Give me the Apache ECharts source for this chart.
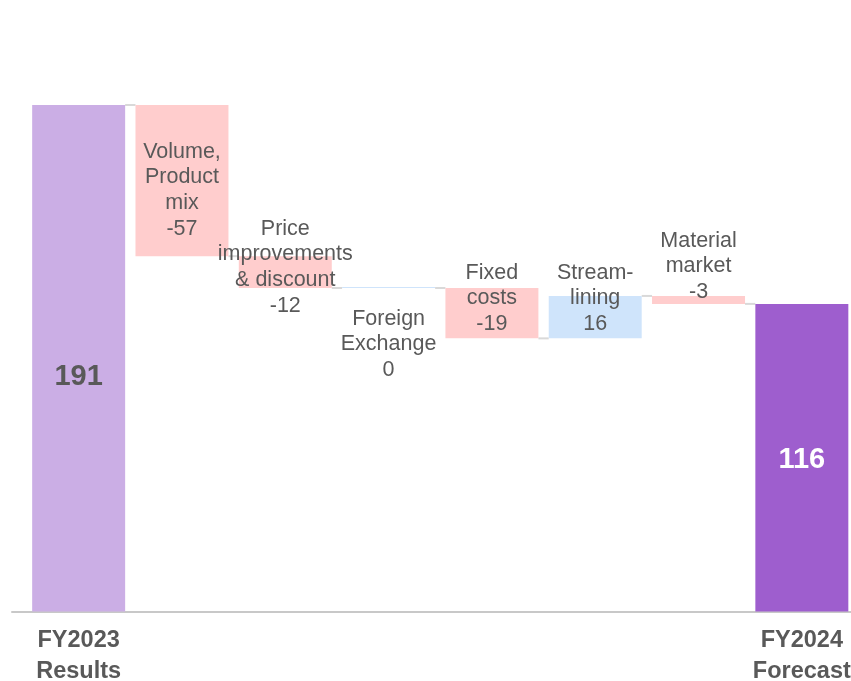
<!DOCTYPE html>
<html><head><meta charset="utf-8">
<script src="https://cdn.jsdelivr.net/npm/echarts@6/dist/echarts.min.js"></script>
<style>html,body{margin:0;padding:0;background:#fff;overflow:hidden}#c{width:851px;height:681px}</style>
</head><body><div id="c"></div>
<script>
const categories = ['FY2023\nResults','Volume,\nProduct\nmix','Price\nimprovements\n& discount','Foreign\nExchange','Fixed\ncosts','Stream-\nlining','Material\nmarket','FY2024\nForecast'];
const startValue = 191;
const changes = [-57, -12, 0, -19, 16, -3];
const endValue = 116;

// layout (label vertical offsets, px)
const labelDy = [19, 34, -40, 19, -28, -36, -68, 2];

const n = categories.length;
const base = [], delta = [], totals = [];
let run = startValue;
base.push(0); delta.push(startValue); totals.push(run);
changes.forEach(c => {
  const nxt = run + c;
  base.push(Math.min(run, nxt));
  delta.push(Math.abs(c));
  run = nxt; totals.push(run);
});
base.push(0); delta.push(endValue);

const C_START = '#CBAEE5', C_END = '#9E5ECE', C_NEG = '#FFCDCD', C_POS = '#CFE4FB';
const TXT = '#595959';

const deltaData = delta.map((v, i) => {
  let color, label;
  if (i === 0) {
    color = C_START;
    label = {show:true, position:'inside', offset:[0,labelDy[i]], formatter:String(startValue), fontSize:29, fontWeight:'bold', color:TXT};
  } else if (i === n-1) {
    color = C_END;
    label = {show:true, position:'inside', offset:[0,labelDy[i]], formatter:String(endValue), fontSize:29, fontWeight:'bold', color:'#fff'};
  } else {
    const c = changes[i-1];
    color = c < 0 ? C_NEG : C_POS;
    label = {show:true, position:'insideTop', distance:0, offset:[0,labelDy[i]],
      formatter: categories[i] + '\n' + c, fontSize:21.5, lineHeight:25.6, color:TXT, align:'center', verticalAlign:'top'};
  }
  return {value: v, itemStyle:{color}, label};
});

const connData = totals.slice(0, n-1).map((t, i) => [i, t]);

const chart = echarts.init(document.getElementById('c'), null, {renderer:'canvas', width:851, height:681});
chart.setOption({
  animation:false,
  backgroundColor:'#fff',
  textStyle:{fontFamily:'Liberation Sans, Arial, sans-serif'},
  grid:[{left:27, width:826.5, top:105, height:506.5, containLabel:false, outerBoundsMode:'none'},
        {left:12, width:839, top:105, height:506.5, containLabel:false, outerBoundsMode:'none'}],
  xAxis:[{type:'category', data:categories, gridIndex:0,
          axisLine:{show:false}, axisTick:{show:false},
          axisLabel:{interval:0, margin:13.5, fontSize:23.5, fontWeight:'bold', color:TXT, lineHeight:31,
            formatter:(v, i) => (i === 0 || i === n-1) ? v : ''}},
         {type:'value', gridIndex:1, min:0, max:1, axisLine:{show:true, lineStyle:{color:'#C8C8C8', width:2}},
          axisTick:{show:false}, axisLabel:{show:false}, splitLine:{show:false}}],
  yAxis:[{type:'value', min:0, max:191, show:false, gridIndex:0},
         {type:'value', min:0, max:1, show:false, gridIndex:1}],
  series:[
    {type:'bar', stack:'w', data:base, itemStyle:{color:'transparent'}, silent:true, barCategoryGap:'10%'},
    {type:'bar', stack:'w', data:deltaData, barCategoryGap:'10%', barMinHeight:1},
    {type:'custom', data:connData, z:1,
      renderItem:(params, api) => {
        const i = api.value(0), t = api.value(1);
        const bw = api.size([1,0])[0];
        const p1 = api.coord([i, t]), p2 = api.coord([i+1, t]);
        return {type:'line', shape:{x1:p1[0] + bw*0.45, y1:p1[1], x2:p2[0] - bw*0.45, y2:p2[1]},
          style:{stroke:'#D9D9D9', lineWidth:2}};
      }}
  ]
});
</script></body></html>
